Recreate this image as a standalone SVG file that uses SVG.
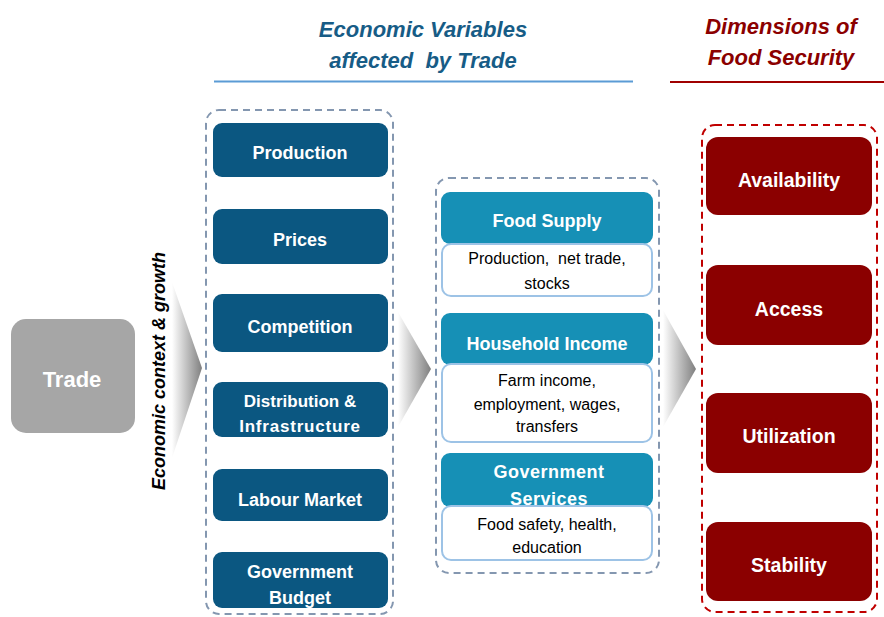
<svg xmlns="http://www.w3.org/2000/svg" width="884" height="617" viewBox="0 0 884 617">
<style>
text{font-family:"Liberation Sans",Arial,sans-serif;}
.t{font-weight:bold;fill:#fff;text-anchor:middle;}
.s{fill:#000;text-anchor:middle;font-size:16px;}
.dk{fill:#0b5781;}
.hd{fill:#1690b6;}
.rd{fill:#8b0000;}
.sub{fill:#fff;stroke:#9dc3e6;stroke-width:2;}
.db{fill:none;stroke:#8497b0;stroke-width:2;stroke-dasharray:7 5;}
.dr{fill:none;stroke:#c00000;stroke-width:2;stroke-dasharray:7 5;}
</style>
<defs>
<linearGradient id="g" x1="0" y1="0" x2="1" y2="0">
<stop offset="0" stop-color="#ffffff"/>
<stop offset="1" stop-color="#7f7f7f"/>
</linearGradient>
</defs>
<rect width="884" height="617" fill="#fff"/>

<g id="titles">
<text x="423" y="37" font-size="22" font-weight="bold" font-style="italic" fill="#175c86" text-anchor="middle">Economic Variables</text>
<text x="423" y="68" font-size="22" font-weight="bold" font-style="italic" fill="#175c86" text-anchor="middle">affected&#160; by Trade</text>
<line x1="214" y1="81.5" x2="633" y2="81.5" stroke="#5b9bd5" stroke-width="2"/>
<text x="781" y="34" font-size="22" font-weight="bold" font-style="italic" fill="#8b0000" text-anchor="middle">Dimensions of</text>
<text x="781" y="65" font-size="22" font-weight="bold" font-style="italic" fill="#8b0000" text-anchor="middle">Food Security</text>
<line x1="670" y1="82" x2="884" y2="82" stroke="#a00000" stroke-width="2"/>
</g>

<g id="connectors">
<polygon points="172,282 202,368 172,458" fill="url(#g)"/>
<polygon points="398,312 431,369 398,427" fill="url(#g)"/>
<polygon points="663,310 696,369 663,427" fill="url(#g)"/>
</g>

<g id="trade">
<rect x="11" y="319" width="124" height="114" rx="15" fill="#a6a6a6"/>
<text class="t" x="72" y="387" font-size="22">Trade</text>
</g>

<g id="context-label">
<text transform="translate(165,371) rotate(-90)" font-size="18" font-weight="bold" font-style="italic" fill="#000" text-anchor="middle">Economic context &amp; growth</text>
</g>

<g id="economic-variables">
<rect class="db" x="206" y="110" width="187" height="504" rx="13"/>
<g id="production"><rect class="dk" x="213" y="123" width="175" height="54" rx="9"/><text class="t" x="300" y="159" font-size="18">Production</text></g>
<g id="prices"><rect class="dk" x="213" y="209" width="175" height="55" rx="9"/><text class="t" x="300" y="246" font-size="18">Prices</text></g>
<g id="competition"><rect class="dk" x="213" y="294" width="175" height="58" rx="9"/><text class="t" x="300" y="333" font-size="18">Competition</text></g>
<g id="distribution"><rect class="dk" x="213" y="382" width="175" height="55" rx="9"/><text class="t" x="300" y="407" font-size="17">Distribution &amp;</text><text class="t" x="300" y="432" font-size="17" letter-spacing="0.8">Infrastructure</text></g>
<g id="labour"><rect class="dk" x="213" y="469" width="175" height="52" rx="9"/><text class="t" x="300" y="506" font-size="18">Labour Market</text></g>
<g id="budget"><rect class="dk" x="213" y="552" width="175" height="56" rx="9"/><text class="t" x="300" y="578" font-size="18">Government</text><text class="t" x="300" y="604" font-size="18">Budget</text></g>
</g>

<g id="channels">
<rect class="db" x="436" y="178" width="223" height="395" rx="13"/>
<g id="food-supply">
<rect class="hd" x="441" y="192" width="212" height="52" rx="9"/>
<text class="t" x="547" y="227" font-size="18">Food Supply</text>
<rect class="sub" x="442" y="244" width="210" height="52" rx="9"/>
<text class="s" x="547" y="264">Production,&#160; net trade,</text>
<text class="s" x="547" y="289">stocks</text>
</g>
<g id="household-income">
<rect class="hd" x="441" y="313" width="212" height="52" rx="9"/>
<text class="t" x="547" y="350" font-size="18">Household Income</text>
<rect class="sub" x="442" y="364" width="210" height="78" rx="9"/>
<text class="s" x="547" y="386">Farm income,</text>
<text class="s" x="547" y="410">employment, wages,</text>
<text class="s" x="547" y="432">transfers</text>
</g>
<g id="government-services">
<rect class="hd" x="441" y="453" width="212" height="54" rx="9"/>
<text class="t" x="549" y="478" font-size="18" letter-spacing="0.5">Government</text>
<text class="t" x="549" y="505" font-size="18" letter-spacing="0.5">Services</text>
<rect class="sub" x="442" y="506" width="210" height="54" rx="9"/>
<text class="s" x="547" y="530">Food safety, health,</text>
<text class="s" x="547" y="553">education</text>
</g>
</g>

<g id="food-security">
<rect class="dr" x="702" y="125" width="175" height="487" rx="13"/>
<g id="availability"><rect class="rd" x="706" y="137" width="166" height="78" rx="12"/><text class="t" x="789" y="187" font-size="19.5">Availability</text></g>
<g id="access"><rect class="rd" x="706" y="265" width="166" height="80" rx="12"/><text class="t" x="789" y="316" font-size="19.5">Access</text></g>
<g id="utilization"><rect class="rd" x="706" y="393" width="166" height="80" rx="12"/><text class="t" x="789" y="443" font-size="19.5">Utilization</text></g>
<g id="stability"><rect class="rd" x="706" y="522" width="166" height="79" rx="12"/><text class="t" x="789" y="572" font-size="19.5">Stability</text></g>
</g>
</svg>
